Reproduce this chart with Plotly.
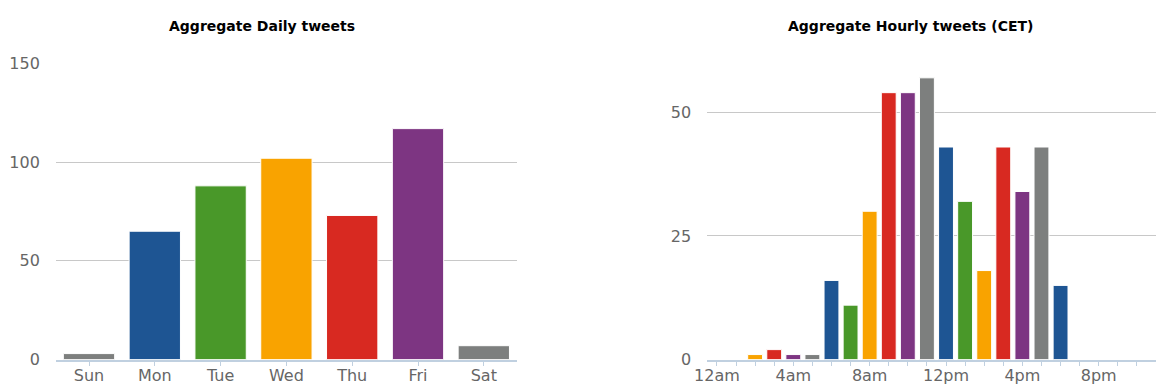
import plotly.graph_objects as go

# Tweet counts per weekday
days = ["Sun", "Mon", "Tue", "Wed", "Thu", "Fri", "Sat"]
daily_counts = [3, 65, 88, 102, 73, 117, 7]

# Tweet counts per hour of day (CET), 0 = midnight
hours = list(range(24))
hourly_counts = [0, 0, 1, 2, 1, 1, 16, 11, 30, 54, 54, 57,
                 43, 32, 18, 43, 34, 43, 15, 0, 0, 0, 0, 0]
hour_tick_vals = [0, 4, 8, 12, 16, 20]
hour_tick_labels = ["12am", "4am", "8am", "12pm", "4pm", "8pm"]

palette = ["#1E5593", "#499829", "#F9A300", "#D82921", "#7D3582", "#7D7F7E"]
day_colors = [palette[(i - 1) % 6] for i in range(len(days))]
hour_colors = [palette[h % 6] for h in hours]

W, H = 1156, 386
AXIS_BLUE = "#C0D0E0"
GRID = "#C8C8C8"
LABEL = "#666666"
FONT = "DejaVu Sans"


def px_x(p):
    return p / W


def px_y(p):
    return (H - p) / H


fig = go.Figure()

fig.add_trace(go.Bar(
    x=list(range(len(days))), y=daily_counts,
    marker=dict(color=day_colors, line=dict(color="white", width=1)),
    xaxis="x", yaxis="y", showlegend=False,
))
fig.add_trace(go.Bar(
    x=hours, y=hourly_counts,
    marker=dict(color=hour_colors, line=dict(color="white", width=1)),
    xaxis="x2", yaxis="y2", showlegend=False,
))

y_dom = [px_y(359.5), px_y(63.5)]
tickfont = dict(family=FONT, size=16, color=LABEL)

fig.update_layout(
    template="none",
    width=W, height=H,
    margin=dict(l=0, r=0, t=0, b=0, pad=0),
    paper_bgcolor="white", plot_bgcolor="white",
    bargap=0.22,
    font=dict(family=FONT),
    xaxis=dict(
        domain=[px_x(56.1), px_x(516.7)], anchor="y", automargin=False,
        range=[-0.5, 6.5],
        tickmode="array", tickvals=list(range(len(days))), ticktext=days,
        showgrid=False, zeroline=False,
        showline=True, linecolor=AXIS_BLUE, linewidth=1.5,
        ticks="outside", ticklen=5, tickcolor=AXIS_BLUE, tickwidth=1,
        ticklabelstandoff=-4,
        tickfont=tickfont,
    ),
    yaxis=dict(
        domain=y_dom, anchor="x", automargin=False,
        range=[0, 150],
        tickmode="array", tickvals=[0, 50, 100, 150],
        showgrid=True, gridcolor=GRID, gridwidth=1,
        zeroline=False, showline=False,
        ticks="outside", ticklen=12, tickcolor="rgba(0,0,0,0)",
        tickfont=tickfont,
    ),
    xaxis2=dict(
        domain=[px_x(707.4), 1.0], anchor="y2", automargin=False,
        range=[-0.5, 23],
        tickmode="array", tickvals=hour_tick_vals, ticktext=hour_tick_labels,
        showgrid=False, zeroline=False,
        showline=True, linecolor=AXIS_BLUE, linewidth=1.5,
        ticks="outside", ticklen=5, tickcolor=AXIS_BLUE, tickwidth=1,
        ticklabelstandoff=-4,
        minor=dict(tickmode="array", tickvals=hours, ticks="outside",
                   ticklen=5, tickcolor=AXIS_BLUE, tickwidth=1, showgrid=False),
        tickfont=tickfont,
    ),
    yaxis2=dict(
        domain=y_dom, anchor="x2", automargin=False,
        range=[0, 59.9],
        tickmode="array", tickvals=[0, 25, 50],
        showgrid=True, gridcolor=GRID, gridwidth=1,
        zeroline=False, showline=False,
        ticks="outside", ticklen=12, tickcolor="rgba(0,0,0,0)",
        tickfont=tickfont,
    ),
    annotations=[
        dict(text="<b>Aggregate Daily tweets</b>", x=px_x(261.7), y=px_y(25.5),
             xref="paper", yref="paper", xanchor="center", yanchor="middle",
             showarrow=False, font=dict(family=FONT, size=14, color="#000000")),
        dict(text="<b>Aggregate Hourly tweets (CET)</b>", x=px_x(911), y=px_y(25.5),
             xref="paper", yref="paper", xanchor="center", yanchor="middle",
             showarrow=False, font=dict(family=FONT, size=14, color="#000000")),
    ],
)

fig.write_html("out.html")
